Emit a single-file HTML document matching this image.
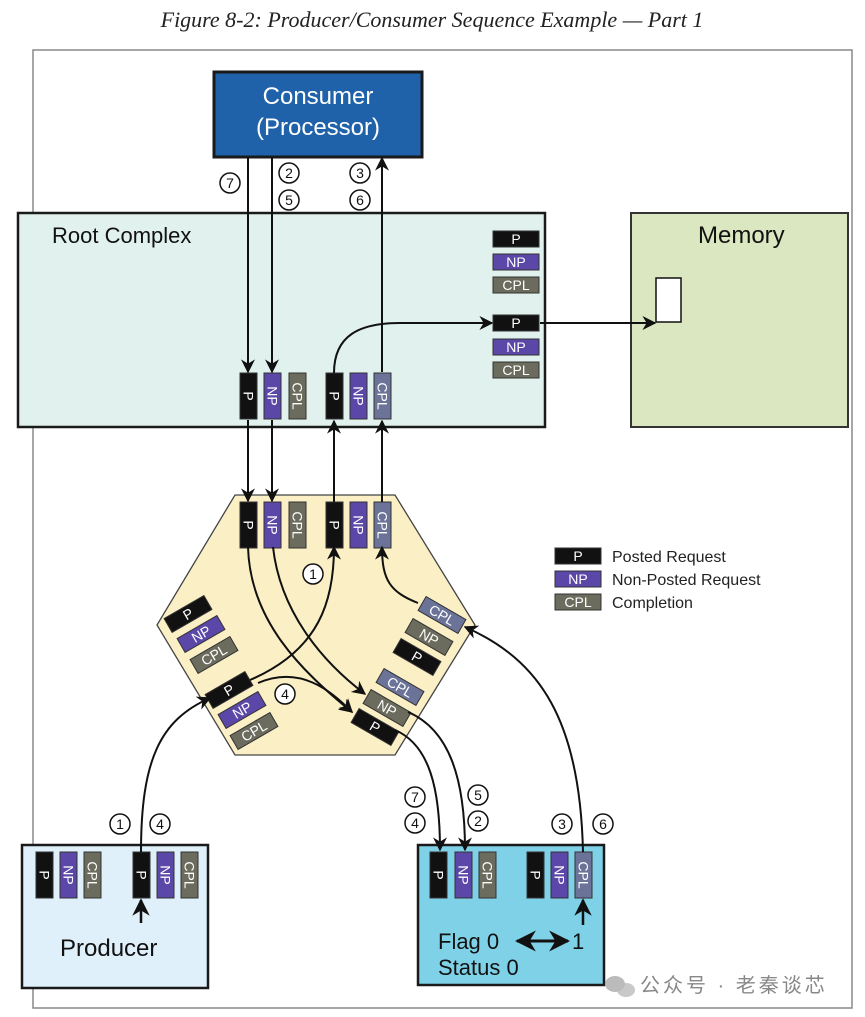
<!DOCTYPE html>
<html><head><meta charset="utf-8"><style>
html,body{margin:0;padding:0;background:#fff}
svg{display:block}
text{font-family:"Liberation Sans",sans-serif}
</style></head><body>
<svg width="865" height="1017" viewBox="0 0 865 1017" xmlns="http://www.w3.org/2000/svg">
<defs>
<marker id="a" viewBox="0 0 10 10" refX="9" refY="5" markerWidth="7" markerHeight="7" orient="auto-start-reverse"><path d="M0,0 L10,5 L0,10 L3,5 z" fill="#111"/></marker>
<g id="vP"><rect x="0" y="0" width="17" height="46" fill="#111" stroke="#333"/><text transform="translate(3.5,23) rotate(90)" text-anchor="middle" font-size="14" fill="#fff">P</text></g>
<g id="vNP"><rect x="0" y="0" width="17" height="46" fill="#5a47a8" stroke="#333"/><text transform="translate(3.5,23) rotate(90)" text-anchor="middle" font-size="14" fill="#fff">NP</text></g>
<g id="vC"><rect x="0" y="0" width="17" height="46" fill="#6b6b5e" stroke="#333"/><text transform="translate(3.5,23) rotate(90)" text-anchor="middle" font-size="14" fill="#fff">CPL</text></g>
<g id="vCb"><rect x="0" y="0" width="17" height="46" fill="#6b7399" stroke="#333"/><text transform="translate(3.5,23) rotate(90)" text-anchor="middle" font-size="14" fill="#fff">CPL</text></g>
<g id="hP"><rect x="-23" y="-8" width="46" height="16" fill="#111" stroke="#333"/><text x="0" y="5" text-anchor="middle" font-size="14" fill="#fff">P</text></g>
<g id="hNP"><rect x="-23" y="-8" width="46" height="16" fill="#5a47a8" stroke="#333"/><text x="0" y="5" text-anchor="middle" font-size="14" fill="#fff">NP</text></g>
<g id="hNPg"><rect x="-23" y="-8" width="46" height="16" fill="#6b6b5e" stroke="#333"/><text x="0" y="5" text-anchor="middle" font-size="14" fill="#fff">NP</text></g>
<g id="hC"><rect x="-23" y="-8" width="46" height="16" fill="#6b6b5e" stroke="#333"/><text x="0" y="5" text-anchor="middle" font-size="14" fill="#fff">CPL</text></g>
<g id="hCb"><rect x="-23" y="-8" width="46" height="16" fill="#6b7399" stroke="#333"/><text x="0" y="5" text-anchor="middle" font-size="14" fill="#fff">CPL</text></g>
</defs>
<text x="432" y="27" text-anchor="middle" font-size="22" font-style="italic" style="font-family:'Liberation Serif',serif" fill="#222">Figure 8-2: Producer/Consumer Sequence Example — Part 1</text>
<rect x="33" y="50" width="819" height="958" fill="none" stroke="#888" stroke-width="1.5"/>

<rect x="214" y="72" width="208" height="85" fill="#1f62aa" stroke="#1a1a1a" stroke-width="3"/>
<text x="318" y="104" text-anchor="middle" font-size="24" fill="#fff">Consumer</text>
<text x="318" y="135" text-anchor="middle" font-size="24" fill="#fff">(Processor)</text>

<rect x="18" y="213" width="527" height="214" fill="#e0f1ee" stroke="#1a1a1a" stroke-width="2.5"/>
<text x="52" y="243" font-size="22" fill="#111">Root Complex</text>
<rect x="631" y="213" width="217" height="214" fill="#dbe7c0" stroke="#333" stroke-width="2"/>
<text x="698" y="243" font-size="24" fill="#111">Memory</text>
<rect x="656" y="278" width="25" height="44" fill="#fff" stroke="#111" stroke-width="1.5"/>

<use href="#hP" x="516" y="239"/><use href="#hNP" x="516" y="262"/><use href="#hC" x="516" y="285"/>
<use href="#hP" x="516" y="323"/><use href="#hNP" x="516" y="347"/><use href="#hC" x="516" y="370"/>

<use href="#vP" x="240" y="373"/><use href="#vNP" x="264" y="373"/><use href="#vC" x="289" y="373"/>
<use href="#vP" x="326" y="373"/><use href="#vNP" x="350" y="373"/><use href="#vCb" x="374" y="373"/>

<polygon points="235,495 395,495 475,625 395,755 235,755 157,625" fill="#fbefc6" stroke="#444" stroke-width="1.3"/>
<use href="#vP" x="240" y="502"/><use href="#vNP" x="264" y="502"/><use href="#vC" x="289" y="502"/>
<use href="#vP" x="326" y="502"/><use href="#vNP" x="350" y="502"/><use href="#vCb" x="374" y="502"/>

<use href="#hP" transform="translate(188,614) rotate(-30)"/>
<use href="#hNP" transform="translate(201,634) rotate(-30)"/>
<use href="#hC" transform="translate(214,655) rotate(-30)"/>
<use href="#hP" transform="translate(229,690) rotate(-30)"/>
<use href="#hNP" transform="translate(242,710) rotate(-30)"/>
<use href="#hC" transform="translate(254,731) rotate(-30)"/>

<use href="#hCb" transform="translate(442,615) rotate(30)"/>
<use href="#hNPg" transform="translate(429,637) rotate(30)"/>
<use href="#hP" transform="translate(417,657) rotate(30)"/>
<use href="#hCb" transform="translate(400,687) rotate(30)"/>
<use href="#hNPg" transform="translate(387,708) rotate(30)"/>
<use href="#hP" transform="translate(375,727) rotate(30)"/>

<use href="#hP" x="578" y="556"/><text x="612" y="562" font-size="16" fill="#222">Posted Request</text>
<use href="#hNP" x="578" y="579"/><text x="612" y="585" font-size="16" fill="#222">Non-Posted Request</text>
<use href="#hC" x="578" y="602"/><text x="612" y="608" font-size="16" fill="#222">Completion</text>

<rect x="22" y="845" width="186" height="143" fill="#dff0fa" stroke="#1a1a1a" stroke-width="2.5"/>
<use href="#vP" x="36" y="852"/><use href="#vNP" x="60" y="852"/><use href="#vC" x="84" y="852"/>
<use href="#vP" x="133" y="852"/><use href="#vNP" x="157" y="852"/><use href="#vC" x="181" y="852"/>
<text x="60" y="956" font-size="24" fill="#111">Producer</text>

<rect x="418" y="845" width="186" height="140" fill="#7fd1e8" stroke="#1a1a1a" stroke-width="2.5"/>
<use href="#vP" x="430" y="852"/><use href="#vNP" x="455" y="852"/><use href="#vC" x="479" y="852"/>
<use href="#vP" x="527" y="852"/><use href="#vNP" x="551" y="852"/><use href="#vCb" x="575" y="852"/>
<text x="438" y="949" font-size="22" fill="#111">Flag 0</text>
<text x="572" y="949" font-size="22" fill="#111">1</text>
<text x="438" y="975" font-size="22" fill="#111">Status 0</text>
<line x1="517" y1="941" x2="568" y2="941" stroke="#111" stroke-width="3" marker-start="url(#a)" marker-end="url(#a)"/>

<g fill="none" stroke="#111" stroke-width="2" marker-end="url(#a)">
<line x1="248" y1="157" x2="248" y2="372"/>
<line x1="272" y1="157" x2="272" y2="372"/>
<line x1="382" y1="372" x2="382" y2="158"/>
<line x1="248" y1="420" x2="248" y2="501"/>
<line x1="272" y1="420" x2="272" y2="501"/>
<line x1="334" y1="502" x2="334" y2="421"/>
<line x1="382" y1="502" x2="382" y2="421"/>
<path d="M334,373 C334,335 360,323 400,323 L492,323"/>
<line x1="540" y1="323" x2="655" y2="323"/>
<path d="M250,680 C320,650 334,600 334,547"/>
<path d="M258,683 C300,665 330,690 352,712"/>
<path d="M248,547 C250,620 300,670 352,712"/>
<path d="M273,547 C280,610 320,660 365,694"/>
<path d="M418,603 C390,592 382,580 382,547"/>
<path d="M583,852 C580,720 540,660 465,627"/>
<path d="M395,730 C430,745 440,790 440,850"/>
<path d="M408,712 C450,730 465,780 465,850"/>
<path d="M141,852 C141,760 160,720 210,698"/>
</g>
<g stroke="#111" stroke-width="2.5" marker-end="url(#a)">
<line x1="141" y1="923" x2="141" y2="900"/>
<line x1="583" y1="925" x2="583" y2="900"/>
</g>

<g font-size="14" text-anchor="middle" fill="#111">
<g fill="#fff" stroke="#111" stroke-width="1.5">
<circle cx="230" cy="183" r="10"/><circle cx="289" cy="173" r="10"/><circle cx="289" cy="200" r="10"/>
<circle cx="360" cy="173" r="10"/><circle cx="360" cy="200" r="10"/>
<circle cx="313" cy="574" r="10"/><circle cx="285" cy="694" r="10"/>
<circle cx="120" cy="824" r="10"/><circle cx="160" cy="824" r="10"/>
<circle cx="415" cy="797" r="10"/><circle cx="415" cy="823" r="10"/>
<circle cx="478" cy="795" r="10"/><circle cx="478" cy="821" r="10"/>
<circle cx="562" cy="824" r="10"/><circle cx="603" cy="824" r="10"/>
</g>
<text x="230" y="188">7</text><text x="289" y="178">2</text><text x="289" y="205">5</text>
<text x="360" y="178">3</text><text x="360" y="205">6</text>
<text x="313" y="579">1</text><text x="285" y="699">4</text>
<text x="120" y="829">1</text><text x="160" y="829">4</text>
<text x="415" y="802">7</text><text x="415" y="828">4</text>
<text x="478" y="800">5</text><text x="478" y="826">2</text>
<text x="562" y="829">3</text><text x="603" y="829">6</text>
</g>

<ellipse cx="615" cy="984" rx="10" ry="8" fill="#aaa" opacity="0.8"/>
<ellipse cx="626" cy="990" rx="9" ry="7" fill="#bbb" opacity="0.8"/>
<text x="640" y="992" font-size="20" fill="#888" letter-spacing="3" style="font-family:'Liberation Sans','Noto Sans CJK SC',sans-serif">公众号 · 老秦谈芯</text>
</svg>
</body></html>
